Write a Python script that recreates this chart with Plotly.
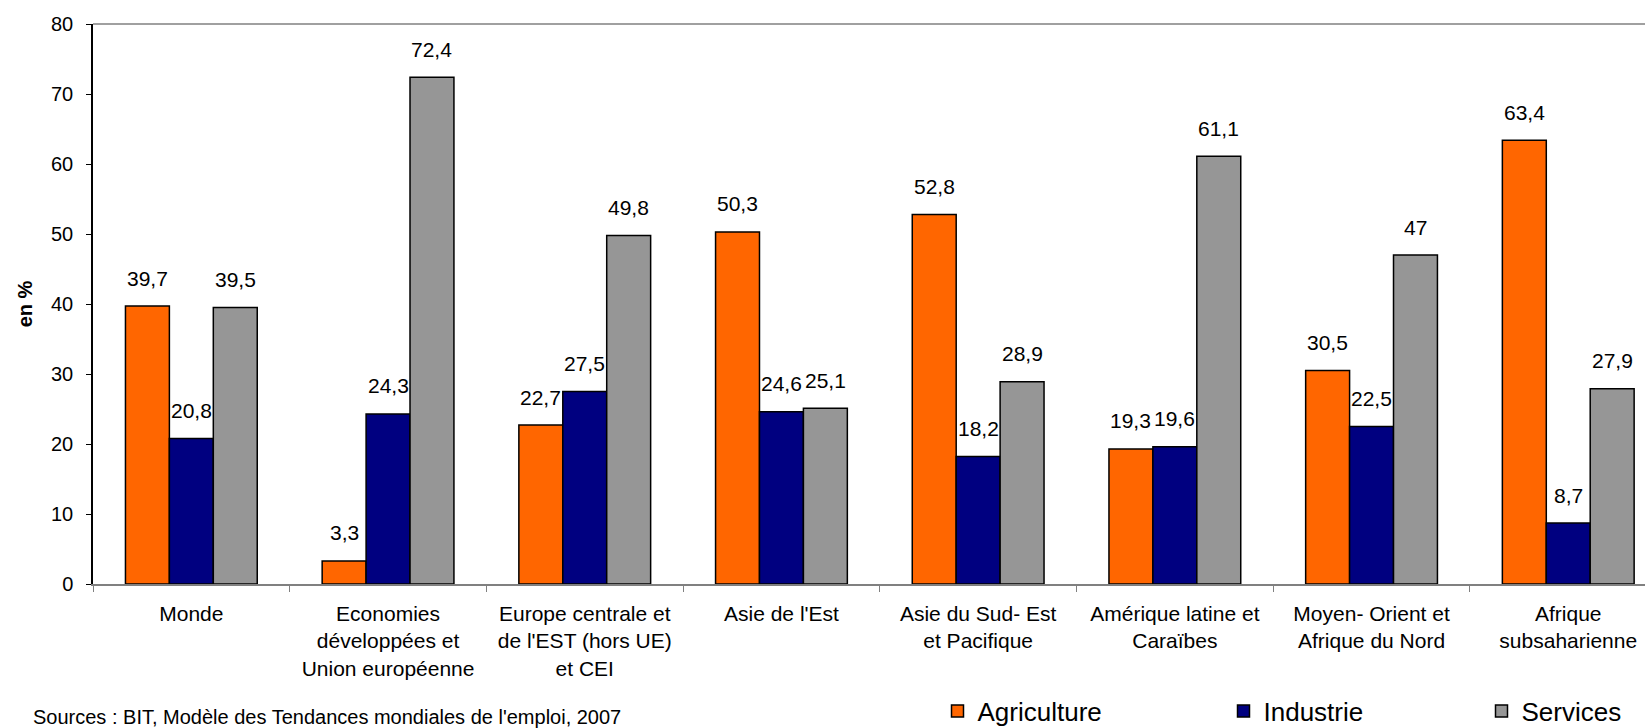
import plotly.graph_objects as go

categories = [
    "Monde",
    "Economies<br>développées et<br>Union européenne",
    "Europe centrale et<br>de l'EST (hors UE)<br>et CEI",
    "Asie de l'Est",
    "Asie du Sud- Est<br>et Pacifique",
    "Amérique latine et<br>Caraïbes",
    "Moyen- Orient et<br>Afrique du Nord",
    "Afrique<br>subsaharienne",
]
agriculture = [39.7, 3.3, 22.7, 50.3, 52.8, 19.3, 30.5, 63.4]
industrie = [20.8, 24.3, 27.5, 24.6, 18.2, 19.6, 22.5, 8.7]
services = [39.5, 72.4, 49.8, 25.1, 28.9, 61.1, 47, 27.9]
series_names = ["Agriculture", "Industrie", "Services"]
series_values = [agriculture, industrie, services]
series_colors = ["#FF6600", "#000080", "#969696"]
y_ticks = [0, 10, 20, 30, 40, 50, 60, 70, 80]
source_text = "Sources : BIT, Modèle des Tendances mondiales de l'emploi, 2007"

FONT = "Arial, 'Liberation Sans', sans-serif"
W, H = 1645, 728
ML, MT, MB = 93, 24, 144
BARGAP = 0.33
cat_px = 196.7
x_max = -0.5 + (W - ML) / cat_px

def fmt(v):
    return f"{v:g}".replace(".", ",")

fig = go.Figure()
legend_ids = ["legend", "legend2", "legend3"]
for name, vals, col, lg in zip(series_names, series_values, series_colors, legend_ids):
    fig.add_trace(go.Bar(
        name=name, x=categories, y=vals,
        marker=dict(color=col, line=dict(color="#000000", width=1.5)),
        legend=lg, showlegend=True,
    ))

annotations = []
n = len(series_values)
for j, vals in enumerate(series_values):
    for i, v in enumerate(vals):
        xpos = i + (j - (n - 1) / 2) * (1 - BARGAP) / n
        annotations.append(dict(
            x=xpos, y=v, xref="x", yref="y", text=fmt(v), showarrow=False,
            yanchor="middle", xanchor="center", yshift=28,
            font=dict(family=FONT, size=21, color="#000000"),
        ))

annotations.append(dict(
    x=(31 - ML) / (W - ML), y=(H - MB - 704) / (H - MT - MB), xref="paper", yref="paper",
    xanchor="left", yanchor="top", showarrow=False, text=source_text,
    font=dict(family=FONT, size=20, color="#000000"),
))

leg_common = dict(orientation="h", xref="container", yref="container",
                  xanchor="left", yanchor="middle", y=1 - 711 / H,
                  font=dict(family=FONT, size=26, color="#000000"),
                  bgcolor="rgba(0,0,0,0)", itemwidth=30)
sym_centers = [957.5, 1243.5, 1501.5]

fig.update_layout(
    width=W, height=H, showlegend=True,
    margin=dict(l=ML, r=0, t=MT, b=MB, autoexpand=False),
    paper_bgcolor="#FFFFFF", plot_bgcolor="#FFFFFF",
    barmode="group", bargap=BARGAP, bargroupgap=0,
    font=dict(family=FONT, size=21, color="#000000"),
    annotations=annotations,
    legend=dict(x=(sym_centers[0] - 20) / W, **leg_common),
    legend2=dict(x=(sym_centers[1] - 20) / W, **leg_common),
    legend3=dict(x=(sym_centers[2] - 20) / W, **leg_common),
    shapes=[dict(type="line", xref="paper", yref="paper", x0=0, x1=1, y0=1, y1=1,
                 line=dict(color="#A0A0A0", width=2))],
    xaxis=dict(
        type="category", range=[-0.5, x_max],
        showline=True, linecolor="#808080", linewidth=1.5,
        ticks="outside", tickson="boundaries", ticklen=6, tickcolor="#808080",
        tickfont=dict(family=FONT, size=21, color="#000000"),
        ticklabelstandoff=10, showgrid=False, zeroline=False,
    ),
    yaxis=dict(
        range=[0, 80], tickvals=y_ticks,
        showline=True, linecolor="#000000", linewidth=1.5,
        ticks="outside", ticklen=5, tickcolor="#000000",
        tickfont=dict(family=FONT, size=20, color="#000000"),
        ticklabelstandoff=9, showgrid=False, zeroline=False,
        title=dict(text="<b>en %</b>", standoff=13,
                   font=dict(family=FONT, size=20, color="#000000")),
    ),
)

fig.write_html("out.html")
